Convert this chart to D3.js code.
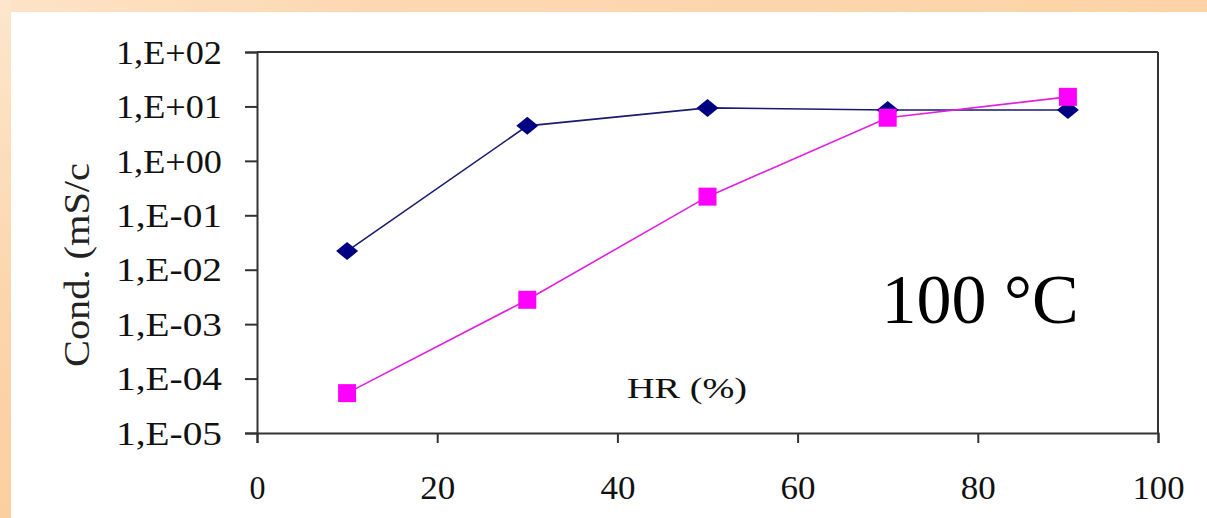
<!DOCTYPE html>
<html><head><meta charset="utf-8">
<script src="https://cdn.jsdelivr.net/npm/d3@7"></script>
<style>html,body{margin:0;padding:0;overflow:hidden;background:#fff}</style>
</head><body>
<script>
const hr = [10, 30, 50, 70, 90];
const condBlue = [0.022, 4.4, 9.4, 8.6, 8.6];
const condMagenta = [5.4e-5, 2.8e-3, 0.22, 6.2, 15];
const xTicks = [0, 20, 40, 60, 80, 100];
const yTicks = [1e2, 1e1, 1e0, 1e-1, 1e-2, 1e-3, 1e-4, 1e-5];
const yTickLabels = ["1,E+02","1,E+01","1,E+00","1,E-01","1,E-02","1,E-03","1,E-04","1,E-05"];

const W = 1207, H = 518;
const svg = d3.select("body").append("svg").attr("width", W).attr("height", H);
const defs = svg.append("defs");
const g1 = defs.append("linearGradient").attr("id","bgTop").attr("x1","0").attr("x2","1").attr("y1","0").attr("y2","0");
g1.append("stop").attr("offset","0").attr("stop-color","#fde3c6");
g1.append("stop").attr("offset","0.3").attr("stop-color","#fcd8b2");
g1.append("stop").attr("offset","1").attr("stop-color","#fbd3a6");
const g2 = defs.append("linearGradient").attr("id","bgLeft").attr("x1","0").attr("x2","0").attr("y1","0").attr("y2","1");
g2.append("stop").attr("offset","0").attr("stop-color","#fde6cc");
g2.append("stop").attr("offset","0.6").attr("stop-color","#fbd5ab");
g2.append("stop").attr("offset","1").attr("stop-color","#fccfa0");

svg.append("rect").attr("width", W).attr("height", H).attr("fill", "url(#bgTop)");
svg.append("rect").attr("x",0).attr("y",0).attr("width", 11).attr("height", H).attr("fill", "url(#bgLeft)");
svg.append("rect").attr("x", 11).attr("y", 12).attr("width", W - 11).attr("height", H - 12).attr("fill", "#fff");

const m = {left: 257, right: 1158, top: 52, bottom: 433};
const x = d3.scaleLinear().domain([0, 100]).range([m.left, m.right]);
const y = d3.scaleLog().domain([1e-5, 1e2]).range([m.bottom, m.top]);

const font = "'Liberation Serif', 'Times New Roman', serif";
const axisColor = "#333";

// plot box top and right
svg.append("line").attr("x1", x(0)).attr("x2", x(100)).attr("y1", y(1e2)).attr("y2", y(1e2))
  .attr("stroke", axisColor).attr("stroke-width", 2);
svg.append("line").attr("x1", x(100)).attr("x2", x(100)).attr("y1", y(1e2)).attr("y2", y(1e-5))
  .attr("stroke", axisColor).attr("stroke-width", 2);

// y axis
const yAxis = d3.axisLeft(y).tickValues(yTicks).tickSize(12).tickPadding(23)
  .tickFormat((d, i) => yTickLabels[i]);
const ya = svg.append("g").attr("transform", `translate(${m.left},0)`).call(yAxis);
ya.select(".domain").attr("stroke", axisColor).attr("stroke-width", 2);
ya.selectAll(".tick line").attr("stroke", axisColor).attr("stroke-width", 2);
ya.selectAll(".tick text").attr("font-family", font).attr("font-size", 33).attr("fill", "#111")
  .attr("textLength", 106).attr("lengthAdjust", "spacingAndGlyphs").attr("dy", "0.34em");

// x axis
const xLen = {1: 16, 2: 35, 3: 52};
const xAxis = d3.axisBottom(x).tickValues(xTicks).tickSize(10).tickPadding(33).tickFormat(d3.format("d"));
const xa = svg.append("g").attr("transform", `translate(0,${m.bottom})`).call(xAxis);
xa.select(".domain").attr("stroke", axisColor).attr("stroke-width", 2);
xa.selectAll(".tick line").attr("stroke", axisColor).attr("stroke-width", 2);
xa.selectAll(".tick text").attr("font-family", font).attr("font-size", 33).attr("fill", "#111")
  .each(function(d){ d3.select(this).attr("textLength", xLen[String(d).length]).attr("lengthAdjust", "spacingAndGlyphs"); });

// lines
const line = d3.line().x(d => x(d[0])).y(d => y(d[1]));
const blueData = hr.map((h, i) => [h, condBlue[i]]);
const magData = hr.map((h, i) => [h, condMagenta[i]]);
svg.append("path").datum(blueData).attr("d", line).attr("fill", "none").attr("stroke", "#1a1a70").attr("stroke-width", 1.6);
svg.append("path").datum(magData).attr("d", line).attr("fill", "none").attr("stroke", "#e020e0").attr("stroke-width", 1.6);

// markers
svg.selectAll(".dia").data(blueData).enter().append("path")
  .attr("d", "M0,-9 L11,0 L0,9 L-11,0 Z")
  .attr("transform", d => `translate(${x(d[0])},${y(d[1])})`)
  .attr("fill", "#000080");
svg.selectAll(".sq").data(magData).enter().append("rect")
  .attr("x", d => x(d[0]) - 9).attr("y", d => y(d[1]) - 9)
  .attr("width", 18).attr("height", 18).attr("fill", "#ff00ff");

// texts
svg.append("text").attr("x", 627).attr("y", 398).attr("font-family", font).attr("font-size", 29)
  .attr("fill", "#111").attr("textLength", 120).attr("lengthAdjust", "spacingAndGlyphs").text("HR (%)");
svg.append("text").attr("x", 980).attr("y", 323).attr("text-anchor", "middle").attr("font-family", font)
  .attr("font-size", 70).attr("fill", "#000").text("100 °C");
svg.append("text").attr("transform", "translate(89,367) rotate(-90)").attr("font-family", font)
  .attr("font-size", 35).attr("fill", "#222").attr("textLength", 204).attr("lengthAdjust", "spacingAndGlyphs")
  .text("Cond. (mS/c");
</script>
</body></html>
